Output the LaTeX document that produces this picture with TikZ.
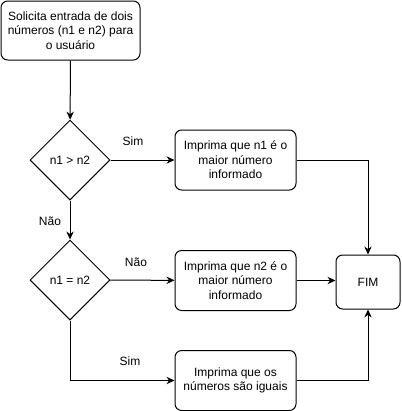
\documentclass[tikz,border=0pt]{standalone}
\usepackage{fontspec}
\setmainfont{Liberation Sans}
\usetikzlibrary{shapes.geometric,arrows.meta}

\begin{document}
\begin{tikzpicture}[x=0.75pt, y=-0.75pt,
    font=\fontsize{9}{10.8}\selectfont,
    caixa/.style={draw, rounded corners=5pt, line width=0.75pt, align=center,
        inner sep=0pt, minimum width=90.75pt, minimum height=45pt},
    decisao/.style={draw, diamond, line width=0.75pt, inner sep=0pt,
        minimum width=60pt, minimum height=60pt},
    seta/.style={line width=0.75pt, -{Stealth[length=6pt,width=5.5pt]}}]
    \useasboundingbox (0,0) rectangle (401,411);

    % caixas e decisoes
    \node[caixa, minimum width=104.25pt, minimum height=44.25pt] (entrada) at (70.5,30.5)
        {Solicita entrada de dois\\números (n1 e n2) para\\o usuário};
    \node[decisao] (maior) at (70,160) {n1 > n2};
    \node[decisao] (igual) at (70,280) {n1 = n2};
    \node[caixa] (n1maior) at (235.5,160) {Imprima que n1 é o\\maior número\\informado};
    \node[caixa] (n2maior) at (235.5,280.5) {Imprima que n2 é o\\maior número\\informado};
    \node[caixa] (iguais) at (235.5,380.5) {Imprima que os\\números são iguais};
    \node[caixa, minimum width=48pt, minimum height=40.5pt] (fim) at (368,282) {FIM};

    % rotulos
    \node (sim1) at (133,141) {Sim};
    \node (nao1) at (50,221) {Não};
    \node (nao2) at (136,262) {Não};
    \node (sim2) at (130,361) {Sim};

    % setas
    \draw[seta] (entrada) -- (maior);
    \draw[seta] (maior) -- (n1maior);
    \draw[seta] (maior) -- (igual);
    \draw[seta] (igual) -- (n2maior);
    \draw[seta] (igual.south) |- (iguais.west);
    \draw[seta] (n1maior.east) -| (fim.north);
    \draw[seta] (n2maior.east) -- (n2maior.east -| fim.west);
    \draw[seta] (iguais.east) -| (fim.south);
\end{tikzpicture}
\end{document}
